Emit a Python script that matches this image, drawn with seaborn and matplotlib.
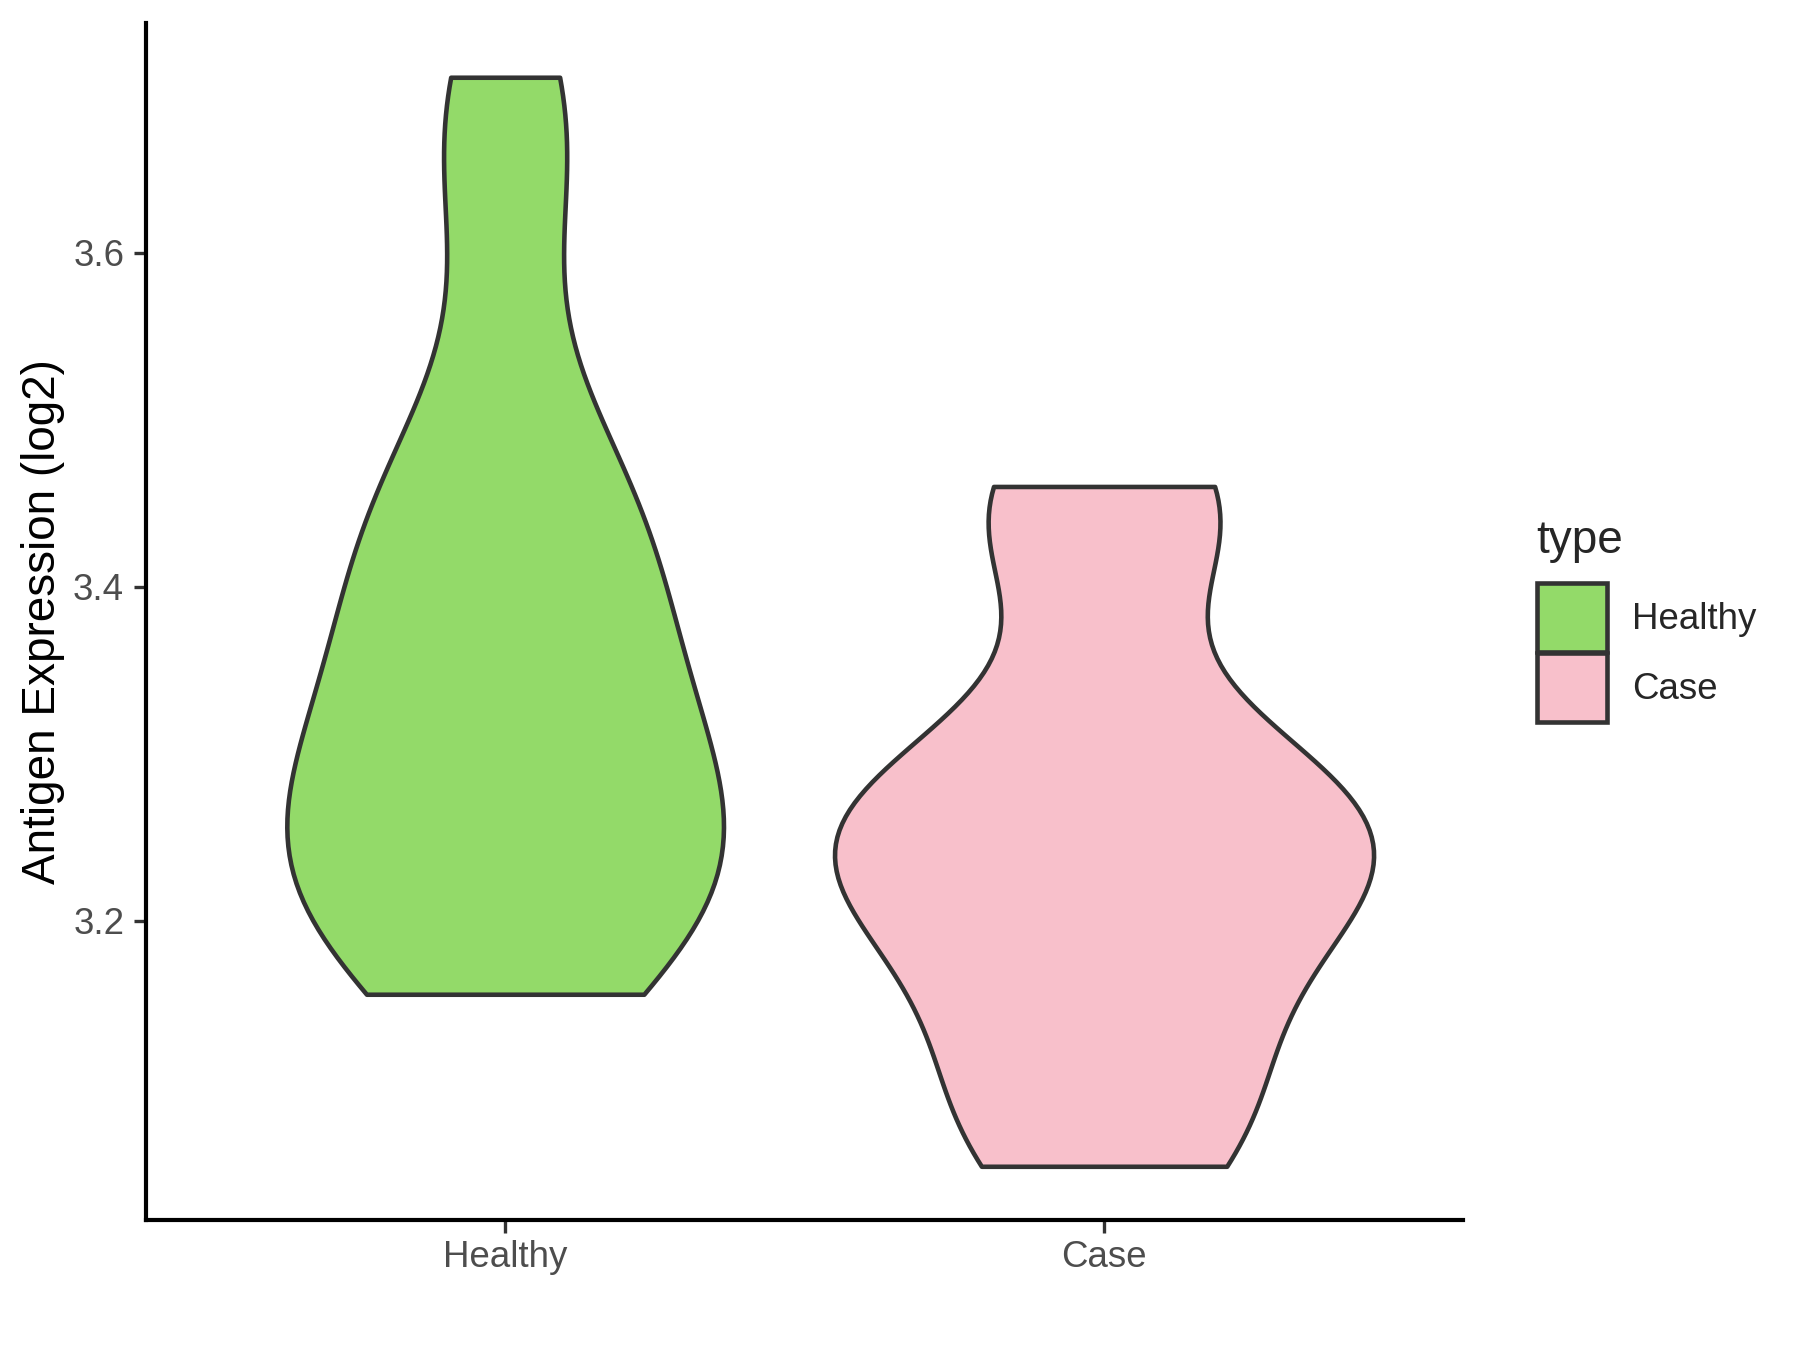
import numpy as np
import pandas as pd
import matplotlib
matplotlib.use("Agg")
import matplotlib.pyplot as plt
import seaborn as sns
from matplotlib.patches import Patch

groups = ["Healthy", "Case"]
healthy_vals = [3.156, 3.17, 3.19, 3.205, 3.22, 3.235, 3.25, 3.265, 3.28,
                3.30, 3.32, 3.345, 3.37, 3.40, 3.42, 3.44, 3.47, 3.50,
                3.61, 3.68, 3.705]
case_vals = [3.053, 3.065, 3.10, 3.14, 3.18, 3.21, 3.23, 3.24, 3.25, 3.27,
             3.285, 3.295, 3.432, 3.445, 3.46]
colors = {"Healthy": "#93DA69", "Case": "#F8C0CB"}
yticks = [3.2, 3.4, 3.6]

df = pd.DataFrame({
    "type": ["Healthy"] * len(healthy_vals) + ["Case"] * len(case_vals),
    "value": healthy_vals + case_vals,
})
df["type"] = pd.Categorical(df["type"], categories=groups, ordered=True)

sns.set_style("white")
plt.rcParams["font.family"] = ["Liberation Sans", "DejaVu Sans"]

fig = plt.figure(figsize=(6, 4.5), dpi=300)
ax = fig.add_axes([0.081, 0.096, 0.732, 0.887])

sns.violinplot(data=df, x="type", y="value", hue="type", palette=colors,
               order=groups, hue_order=groups, cut=0, inner=None,
               density_norm="area", common_norm=True, width=0.9,
               linewidth=1.1, linecolor="#333333", bw_adjust=0.8,
               saturation=1, legend=False, ax=ax)

ax.set_xlim(-0.6, 1.6)
ax.set_ylim(3.0206, 3.7375)
ax.set_yticks(yticks)
ax.set_yticklabels([f"{t:.1f}" for t in yticks])
ax.set_xlabel("")
ax.set_ylabel("Antigen Expression (log2)", fontsize=11, color="black", labelpad=2)
ax.tick_params(axis="both", labelsize=8.8, labelcolor="#4D4D4D",
               color="#333333", length=3, width=0.8, left=True, bottom=True)
ax.tick_params(axis="x", pad=1.8)
ax.tick_params(axis="y", pad=2.2)
for s in ["top", "right"]:
    ax.spines[s].set_visible(False)
for s in ["left", "bottom"]:
    ax.spines[s].set_color("black")
    ax.spines[s].set_linewidth(1.0)

# legend: title drawn separately so the gap to the keys can match
fig.text(0.8533, 0.5904, "type", fontsize=11, va="baseline", ha="left")
handles = [Patch(facecolor=colors[g], edgecolor="#333333", linewidth=1.1, label=g)
           for g in groups]
leg = fig.legend(handles=handles, loc="upper left",
                 bbox_to_anchor=(0.8539, 0.5681), frameon=False, fontsize=8.8,
                 handlelength=1.92, handleheight=2.5,
                 labelspacing=0.05, handletextpad=0.68,
                 borderaxespad=0, borderpad=0)

fig.savefig("out.png", dpi=300)
